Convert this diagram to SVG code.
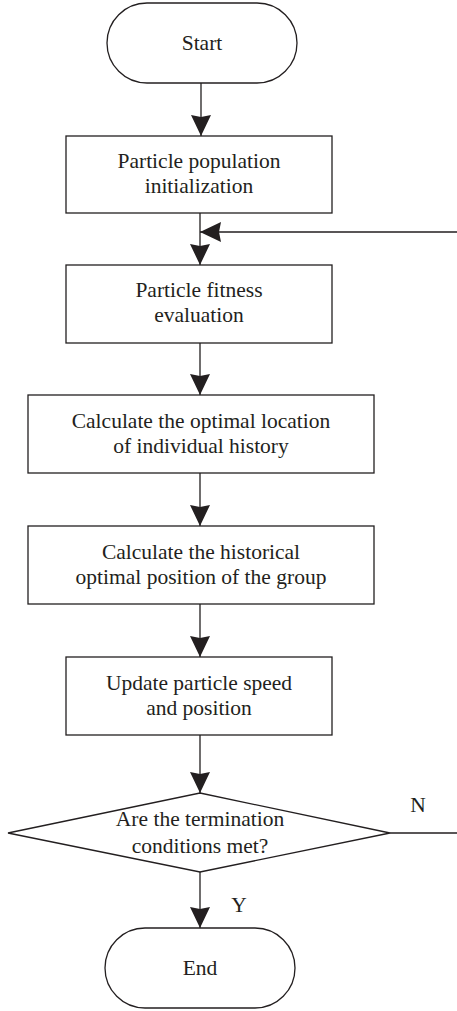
<svg xmlns="http://www.w3.org/2000/svg" width="457" height="1011" viewBox="0 0 457 1011">
<style>
.shape{fill:#fff;stroke:#231f20;stroke-width:1.3}
.conn{fill:none;stroke:#231f20;stroke-width:1.3}
text{font-family:"Liberation Serif","Times New Roman",serif;font-size:21.5px;fill:#231f20;text-anchor:middle}
</style>
<defs>
<marker id="ah" viewBox="0 0 21 20" refX="21" refY="10" markerWidth="21" markerHeight="20" markerUnits="userSpaceOnUse" orient="auto">
<path d="M0,0 L21,10 L0,20 L2,10 Z" fill="#231f20"/>
</marker>
</defs>
<g id="connectors">
<line class="conn" x1="201" y1="83" x2="201" y2="136" marker-end="url(#ah)"/>
<line class="conn" x1="200" y1="213" x2="200" y2="265" marker-end="url(#ah)"/>
<line class="conn" x1="200" y1="343" x2="200" y2="395" marker-end="url(#ah)"/>
<line class="conn" x1="200" y1="473" x2="200" y2="526" marker-end="url(#ah)"/>
<line class="conn" x1="200" y1="604" x2="200" y2="657" marker-end="url(#ah)"/>
<line class="conn" x1="200" y1="735" x2="200" y2="793" marker-end="url(#ah)"/>
<line class="conn" x1="200" y1="872" x2="200" y2="928" marker-end="url(#ah)"/>
<path class="conn" d="M390,833 H462 V232 H200" marker-end="url(#ah)"/>
<text x="418" y="812">N</text>
<text x="239" y="912">Y</text>
</g>
<g id="start">
<rect class="shape" x="107" y="3" width="190" height="80" rx="40" ry="40"/>
<text x="202" y="50">Start</text>
</g>
<g id="init">
<rect class="shape" x="66" y="136" width="266" height="77"/>
<text x="199" y="168">Particle population</text>
<text x="199" y="193">initialization</text>
</g>
<g id="fitness">
<rect class="shape" x="66" y="265" width="266" height="78"/>
<text x="199" y="297">Particle fitness</text>
<text x="199" y="322">evaluation</text>
</g>
<g id="individual">
<rect class="shape" x="28" y="395" width="346" height="78"/>
<text x="201" y="428">Calculate the optimal location</text>
<text x="201" y="453">of individual history</text>
</g>
<g id="group">
<rect class="shape" x="28" y="526" width="346" height="78"/>
<text x="201" y="559">Calculate the historical</text>
<text x="201" y="584">optimal position of the group</text>
</g>
<g id="update">
<rect class="shape" x="66" y="657" width="266" height="78"/>
<text x="199" y="690">Update particle speed</text>
<text x="199" y="715">and position</text>
</g>
<g id="decision">
<polygon class="shape" points="200,793 390,833 200,872 8,833"/>
<text x="200" y="826">Are the termination</text>
<text x="200" y="853">conditions met?</text>
</g>
<g id="end">
<rect class="shape" x="105" y="928" width="190" height="80" rx="40" ry="40"/>
<text x="200" y="975">End</text>
</g>
</svg>
